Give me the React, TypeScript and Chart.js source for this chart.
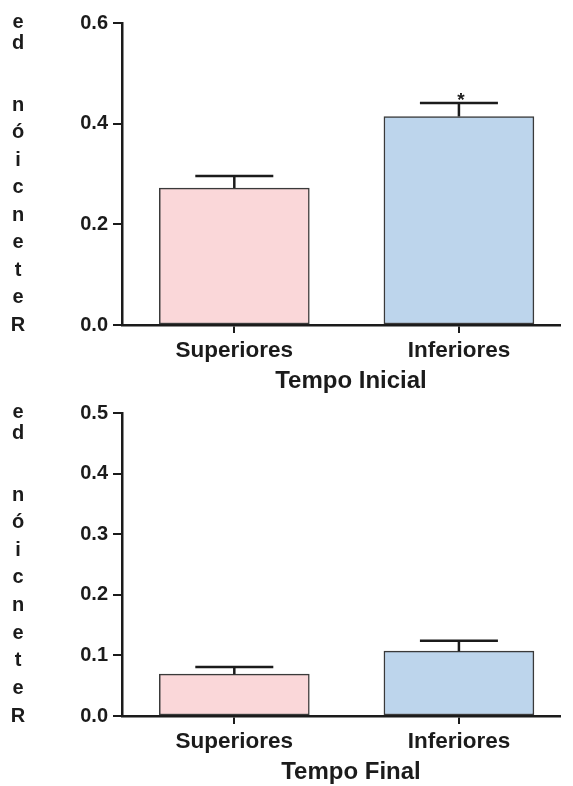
import React, { useEffect, useRef } from "react";
import { Chart, registerables } from "chart.js";

Chart.register(...registerables);

const categories = ["Superiores", "Inferiores"];

const inicialMeans = [0.272, 0.414];
const inicialErrors = [0.024, 0.027];
const inicialMarks = ["", "*"];
const inicialTicks = [0, 0.2, 0.4, 0.6];

const finalMeans = [0.069, 0.107];
const finalErrors = [0.012, 0.017];
const finalMarks = ["", ""];
const finalTicks = [0, 0.1, 0.2, 0.3, 0.4, 0.5];

const yAxisLabel = "Retención de";
const inicialTitle = "Tempo Inicial";
const finalTitle = "Tempo Final";

const barFills = ["#FAD7D9", "#BDD5EC"];
const FONT = '"Liberation Sans", Arial, Helvetica, sans-serif';
const INK = "#1b1b1b";

type PanelProps = {
  means: number[];
  errors: number[];
  marks: string[];
  ticks: number[];
  title: string;
  padTop: number;
};

function Panel({ means, errors, marks, ticks, title, padTop }: PanelProps) {
  const ref = useRef<HTMLCanvasElement | null>(null);

  useEffect(() => {
    if (!ref.current) return;

    const errorBars = {
      id: "errorBars",
      afterDatasetsDraw(chart: any) {
        const { ctx } = chart;
        const yScale = chart.scales.y;
        const meta = chart.getDatasetMeta(0);
        ctx.save();
        ctx.strokeStyle = INK;
        ctx.lineWidth = 2.5;
        ctx.fillStyle = INK;
        meta.data.forEach((bar: any, i: number) => {
          const yTop = yScale.getPixelForValue(means[i] + errors[i]);
          ctx.beginPath();
          ctx.moveTo(bar.x, bar.y);
          ctx.lineTo(bar.x, yTop);
          ctx.moveTo(bar.x - 39, yTop);
          ctx.lineTo(bar.x + 39, yTop);
          ctx.stroke();
          if (marks[i]) {
            ctx.font = `bold 19px ${FONT}`;
            ctx.textAlign = "center";
            ctx.textBaseline = "alphabetic";
            ctx.fillText(marks[i], bar.x + 2, yTop + 3);
          }
        });
        ctx.restore();
      },
    };

    const labels = {
      id: "panelLabels",
      afterDraw(chart: any) {
        const { ctx, chartArea } = chart;
        ctx.save();
        ctx.fillStyle = INK;
        ctx.textAlign = "center";
        ctx.textBaseline = "middle";

        // axis title under the x axis
        ctx.font = `bold 24px ${FONT}`;
        ctx.fillText(title, (chartArea.left + chartArea.right) / 2 + 10, chartArea.bottom + 56);

        // stacked y-axis label
        const chars = Array.from(yAxisLabel).reverse();
        ctx.font = `bold 20px ${FONT}`;
        const top = chartArea.top - 1;
        const bottom = chartArea.bottom;
        const positions: number[] = [top, top + 21, top + 52];
        const start = top + 83;
        const rest = chars.length - 3;
        const step = (bottom - start) / (rest - 1);
        for (let k = 0; k < rest; k++) positions.push(start + k * step);
        chars.forEach((c, k) => {
          if (c.trim()) ctx.fillText(c, 18, positions[k]);
        });
        ctx.restore();
      },
    };

    const chart = new Chart(ref.current, {
      type: "bar",
      data: {
        datasets: [
          {
            data: categories.map((_, i) => ({ x: i, y: means[i] })),
            backgroundColor: barFills,
            borderColor: "#3a3a3a",
            borderWidth: 1.5,
            borderSkipped: false,
            barThickness: 150,
          },
        ],
      },
      options: {
        animation: false,
        responsive: false,
        devicePixelRatio: 1,
        layout: { padding: { left: 0, top: padTop, right: 13, bottom: 0 } },
        plugins: {
          legend: { display: false },
          tooltip: { enabled: false },
        },
        scales: {
          x: {
            type: "linear",
            offset: false,
            min: -0.5,
            max: 1.45,
            afterBuildTicks: (scale: any) => {
              scale.ticks = categories.map((_, i) => ({ value: i }));
            },
            afterFit: (scale: any) => {
              scale.height = 70;
            },
            grid: {
              display: true,
              offset: false,
              drawOnChartArea: false,
              drawTicks: true,
              tickLength: 8,
              color: INK,
              lineWidth: 2,
            },
            border: { display: true, color: INK, width: 2.5 },
            ticks: {
              padding: 4,
              color: INK,
              font: { family: FONT, size: 22.5, weight: "bold" },
              callback: (v: any) => categories[Math.round(Number(v))] ?? "",
              maxRotation: 0,
              autoSkip: false,
            },
            title: { display: false },
          },
          y: {
            type: "linear",
            min: ticks[0],
            max: ticks[ticks.length - 1],
            afterBuildTicks: (scale: any) => {
              scale.ticks = ticks.map((t) => ({ value: t }));
            },
            afterFit: (scale: any) => {
              scale.width = 122;
            },
            grid: {
              display: true,
              drawOnChartArea: false,
              drawTicks: true,
              tickLength: 9,
              color: INK,
              lineWidth: 2,
            },
            border: { display: true, color: INK, width: 2.5 },
            ticks: {
              padding: 5,
              color: INK,
              font: { family: FONT, size: 20, weight: "bold" },
              callback: (v: any) => Number(v).toFixed(1),
            },
          },
        },
      },
      plugins: [errorBars, labels],
    } as any);

    return () => chart.destroy();
  }, [means, errors, marks, ticks, title, padTop]);

  return (
    <canvas
      ref={ref}
      width={573}
      height={395}
      style={{ display: "block", width: 573, height: 395 }}
    />
  );
}

export default function App() {
  return (
    <div
      style={{
        position: "absolute",
        left: 0,
        top: 0,
        width: 573,
        height: 786,
        background: "#ffffff",
        overflow: "hidden",
      }}
    >
      <div style={{ position: "absolute", left: 0, top: 0 }}>
        <Panel
          means={inicialMeans}
          errors={inicialErrors}
          marks={inicialMarks}
          ticks={inicialTicks}
          title={inicialTitle}
          padTop={23}
        />
      </div>
      <div style={{ position: "absolute", left: 0, top: 391 }}>
        <Panel
          means={finalMeans}
          errors={finalErrors}
          marks={finalMarks}
          ticks={finalTicks}
          title={finalTitle}
          padTop={22}
        />
      </div>
    </div>
  );
}
